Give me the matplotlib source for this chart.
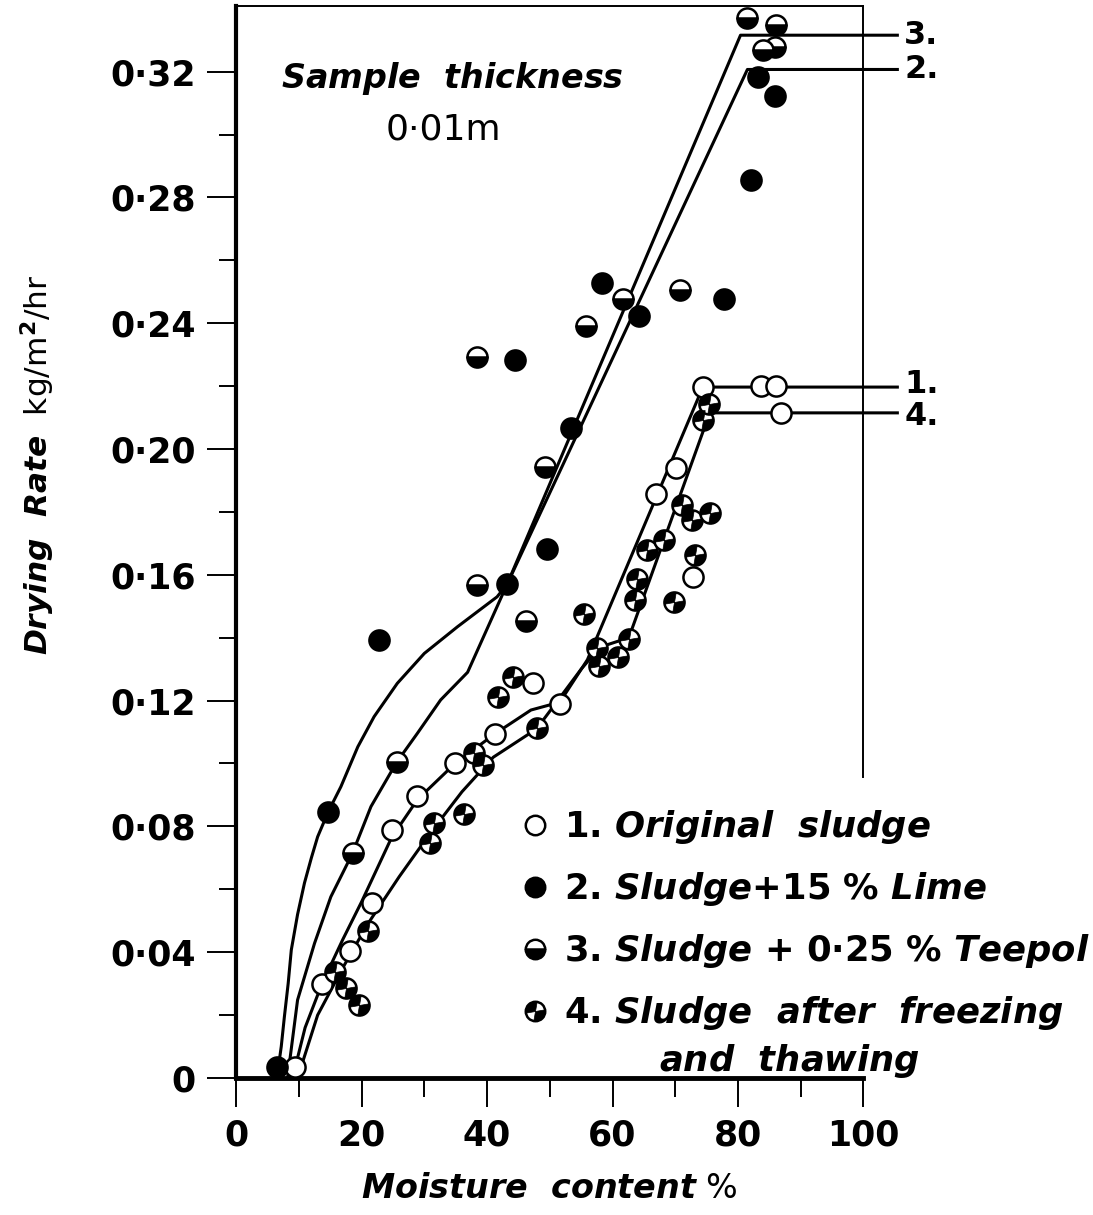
import numpy as np
import matplotlib
matplotlib.use('Agg')
import matplotlib.pyplot as plt
from matplotlib.path import Path
from matplotlib.lines import Line2D

plt.rcParams['font.family'] = ['DejaVu Sans']
plt.rcParams['font.weight'] = 'bold'
plt.rcParams['mathtext.fontset'] = 'custom'
plt.rcParams['mathtext.rm'] = 'DejaVu Sans:bold'
plt.rcParams['mathtext.it'] = 'DejaVu Sans:italic:bold'
plt.rcParams['mathtext.bf'] = 'DejaVu Sans:bold'

# ---------------- data ----------------
x_ticks = [0, 20, 40, 60, 80, 100]
x_ticklabels = ['0', '20', '40', '60', '80', '100']
y_ticks = [0, 0.04, 0.08, 0.12, 0.16, 0.20, 0.24, 0.28, 0.32]
y_ticklabels = ['0', '0·04', '0·08', '0·12', '0·16', '0·20', '0·24', '0·28', '0·32']

# 1. Original sludge (open circles)
s1_x = [9.4, 13.7, 18.2, 21.7, 24.8, 28.9, 34.9, 41.3, 47.3, 51.6, 66.9, 70.1, 72.8, 74.4, 83.7, 86.0, 86.8]
s1_y = [0.0034, 0.030, 0.0404, 0.0555, 0.0787, 0.0896, 0.100, 0.1095, 0.1257, 0.119, 0.1857, 0.1939, 0.1594, 0.2197, 0.220, 0.220, 0.2114]
# 2. Sludge + 15% lime (filled)
s2_x = [6.5, 14.7, 22.7, 43.2, 49.6, 53.4, 44.5, 58.4, 64.2, 77.8, 82.0, 83.2, 85.9]
s2_y = [0.0035, 0.0846, 0.1393, 0.157, 0.1682, 0.2067, 0.2282, 0.2529, 0.2423, 0.2476, 0.2857, 0.3184, 0.3124]
# 3. Sludge + 0.25% Teepol (half filled)
s3_x = [18.6, 25.6, 38.4, 46.2, 49.3, 38.4, 55.8, 61.7, 70.7, 81.4, 86.0, 85.9, 84.0]
s3_y = [0.0714, 0.1006, 0.1569, 0.1454, 0.1942, 0.2294, 0.2391, 0.2477, 0.2505, 0.3372, 0.3348, 0.3278, 0.3268]
# 4. Sludge after freezing and thawing (quartered)
s4_x = [15.8, 17.5, 19.6, 21.0, 30.9, 31.5, 36.3, 37.9, 39.3, 41.7, 44.1, 47.9, 55.4, 57.6, 57.8,
        60.8, 62.7, 63.6, 63.9, 65.5, 68.2, 69.8, 71.1, 72.7, 75.6, 73.2, 74.5, 75.4]
s4_y = [0.0338, 0.0286, 0.0232, 0.0467, 0.0746, 0.081, 0.0838, 0.1033, 0.0996, 0.1213, 0.1274, 0.1114,
        0.1474, 0.1367, 0.131, 0.1339, 0.1396, 0.1519, 0.1586, 0.168, 0.1711, 0.1514, 0.1822, 0.1774,
        0.1797, 0.1662, 0.2093, 0.2143]

# fitted curves
c1_x = [9.0, 11.0, 13.7, 17.0, 20.0, 24.8, 28.9, 34.9, 41.3, 47.0, 51.6, 56.0, 74.4, 105.4]
c1_y = [0.0, 0.016, 0.030, 0.044, 0.056, 0.0765, 0.0885, 0.100, 0.1095, 0.117, 0.1195, 0.133, 0.2197, 0.2197]
c2_x = [6.5, 7.2, 7.7, 8.3, 8.8, 9.8, 10.9, 12.0, 13.0, 14.7, 16.7, 19.4, 22.0, 25.7, 30.0, 35.3,
        41.6, 43.2, 81.5, 105.4]
c2_y = [0.0, 0.010, 0.0195, 0.030, 0.0407, 0.052, 0.062, 0.070, 0.0767, 0.0847, 0.0926, 0.1053,
        0.1149, 0.1255, 0.135, 0.1435, 0.153, 0.157, 0.3207, 0.3207]
c3_x = [8.2, 9.8, 12.5, 15.1, 18.5, 21.5, 25.6, 28.9, 32.6, 36.9, 43.2, 80.4, 105.4]
c3_y = [0.0, 0.0248, 0.0428, 0.0576, 0.0712, 0.0863, 0.1004, 0.1096, 0.1202, 0.129, 0.157, 0.3316, 0.3316]
c4_x = [9.8, 13.0, 17.0, 21.0, 26.0, 31.0, 36.0, 41.0, 47.9, 55.0, 58.0, 62.6, 75.5, 105.4]
c4_y = [0.0, 0.020, 0.035, 0.049, 0.064, 0.078, 0.091, 0.102, 0.111, 0.130, 0.137, 0.140, 0.2115, 0.2115]

curve_labels = ['1.', '2.', '3.', '4.']
legend_labels = [r'1. $\mathit{Original\ \ sludge}$',
                 r'2. $\mathit{Sludge}$+15 % $\mathit{Lime}$',
                 r'3. $\mathit{Sludge}$ + 0·25 % $\mathit{Teepol}$',
                 r'4. $\mathit{Sludge\ \ after\ \ freezing}$']
legend_extra = r'$\mathit{and\ \ thawing}$'

# ---------------- figure ----------------
fig = plt.figure(figsize=(10.93, 12.15), dpi=100)
ax = fig.add_axes([0.216, 0.1128, 0.574, 0.8823])
ax.set_xlim(0, 100)
ax.set_ylim(0, 0.3409)

lw = 2.2
for cx, cy in [(c1_x, c1_y), (c2_x, c2_y), (c3_x, c3_y), (c4_x, c4_y)]:
    ax.plot(cx, cy, color='black', lw=lw, clip_on=False, zorder=2,
            solid_joinstyle='round')

ms = 14.5
mew = 1.8
ax.plot(s1_x, s1_y, 'o', ms=ms, mfc='white', mec='black', mew=mew, zorder=4, clip_on=False)
ax.plot(s2_x, s2_y, 'o', ms=ms, mfc='black', mec='black', mew=mew, zorder=4, clip_on=False)
ax.plot(s3_x, s3_y, 'o', ms=ms, fillstyle='bottom', mfc='black', mfcalt='white',
        mec='black', mew=mew, zorder=4, clip_on=False)
quarter = Path.make_compound_path(Path.wedge(80, 190), Path.wedge(260, 370))
ax.plot(s4_x, s4_y, 'o', ms=ms, mfc='white', mec='black', mew=mew, zorder=4, clip_on=False)
ax.plot(s4_x, s4_y, ls='none', marker=quarter, ms=ms, mfc='black', mec='black', mew=0.5,
        zorder=5, clip_on=False)

# curve end labels (1. sits just above its line, 4. just below, as in the drawing)
end_y = [c1_y[-1], c2_y[-1], c3_y[-1], c4_y[-1]]
label_va = ['bottom', 'center', 'center', 'top']
label_dy = [-9.5, 0, 0, 8.5]
for lab, yv, va, dy in zip(curve_labels, end_y, label_va, label_dy):
    ax.annotate(lab, xy=(106.5, yv), xytext=(0, dy), textcoords='offset points',
                fontsize=23, va=va, ha='left', annotation_clip=False)

# axes styling
ax.spines['left'].set_linewidth(3.0)
ax.spines['bottom'].set_linewidth(3.5)
ax.spines['top'].set_linewidth(1.4)
ax.spines['right'].set_linewidth(1.4)
ax.spines['right'].set_bounds(0.0957, 0.3409)

ax.set_xticks(x_ticks)
ax.set_xticklabels(x_ticklabels)
ax.set_xticks(np.arange(10, 100, 20), minor=True)
ax.set_yticks(y_ticks)
ax.set_yticklabels(y_ticklabels)
ax.set_yticks(np.arange(0.02, 0.34, 0.04), minor=True)
ax.tick_params(axis='both', which='major', direction='out', length=21, width=1.4, labelsize=25)
ax.tick_params(axis='x', which='minor', direction='out', length=14, width=1.4)
ax.tick_params(axis='y', which='minor', direction='out', length=12, width=1.4)
ax.tick_params(axis='y', pad=8)
ax.tick_params(axis='x', pad=8)

ax.set_ylabel(r'$\mathit{Drying\ \ Rate}$  kg/m$^2$/hr', fontsize=22.5)
ax.yaxis.set_label_coords(-0.285, 0.572)
ax.set_xlabel(r'$\mathit{Moisture\ \ content}$ %', fontsize=24)
ax.xaxis.set_label_coords(0.5, -0.088)

ax.text(0.345, 0.932, r'$\mathit{Sample\ \ thickness}$', transform=ax.transAxes,
        fontsize=24, ha='center', va='center')
ax.text(0.33, 0.885, '0·01m', transform=ax.transAxes, fontsize=26, ha='center', va='center',
        fontweight='normal')

# legend
hs = 14
h1 = Line2D([], [], ls='none', marker='o', ms=hs, mfc='white', mec='black', mew=mew)
h2 = Line2D([], [], ls='none', marker='o', ms=hs, mfc='black', mec='black', mew=mew)
h3 = Line2D([], [], ls='none', marker='o', ms=hs, fillstyle='bottom', mfc='black',
            mfcalt='white', mec='black', mew=mew)
h4a = Line2D([], [], ls='none', marker='o', ms=hs, mfc='white', mec='black', mew=mew)
h4b = Line2D([], [], ls='none', marker=quarter, ms=hs, mfc='black', mec='black', mew=0.5)
leg = ax.legend([h1, h2, h3, (h4a, h4b)], legend_labels, loc='upper left',
                bbox_to_anchor=(521 / 1093, 1 - 808 / 1215), bbox_transform=fig.transFigure,
                frameon=False, fontsize=25.5, handlelength=0.8, handletextpad=0.4,
                labelspacing=0.68, borderpad=0, borderaxespad=0)
leg.set_zorder(6)
fig.text(790 / 1093, 1 - 1061 / 1215, legend_extra, fontsize=25.5, ha='center', va='center')

fig.savefig('out.png', dpi=100)
